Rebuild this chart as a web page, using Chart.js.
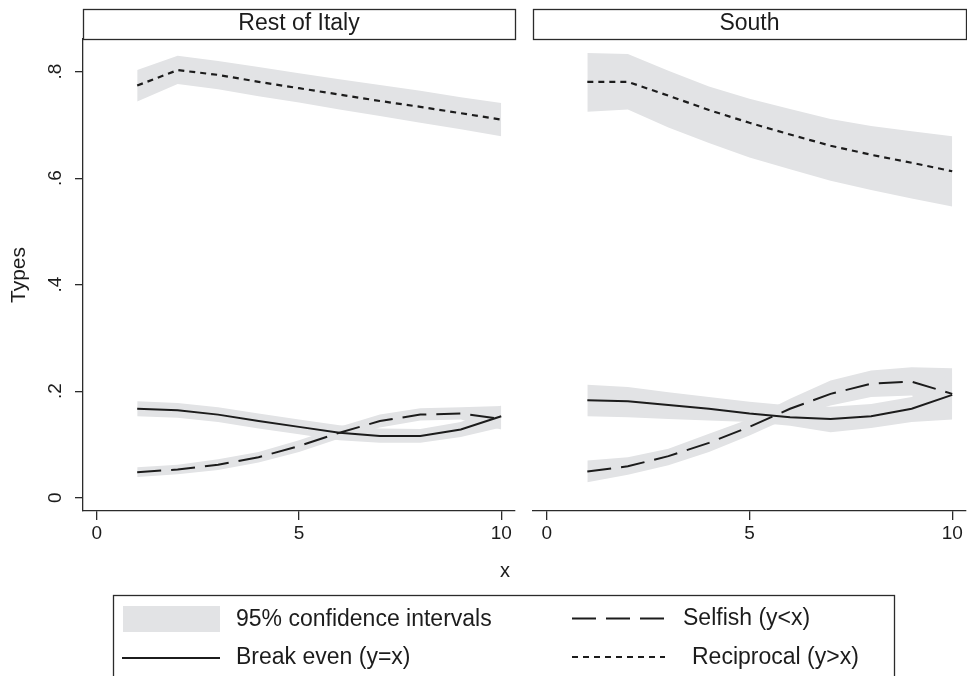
<!DOCTYPE html>
<html>
<head>
<meta charset="utf-8">
<script src="https://cdn.jsdelivr.net/npm/chart.js@4.4.0/dist/chart.umd.min.js"></script>
<style>
  html, body { margin: 0; padding: 0; background: #fff; }
  #wrap { position: relative; width: 967px; height: 676px; overflow: hidden; }
  #left { position: absolute; left: 0; top: 0; }
  #right { position: absolute; left: 520px; top: 0; }
</style>
</head>
<body>
<div id="wrap">
  <canvas id="left" width="967" height="676"></canvas>
  <canvas id="right" width="447" height="600"></canvas>
</div>
<script>
// x values shared by both panels
const xs = [1, 2, 3, 4, 5, 6, 7, 8, 9, 10];
const xTicks = [0, 5, 10];
const yTicks = [0, 0.2, 0.4, 0.6, 0.8];
const panelTitles = ['Rest of Italy', 'South'];

// Rest of Italy
const italyBreakEven   = [0.167, 0.164, 0.156, 0.144, 0.133, 0.122, 0.116, 0.116, 0.128, 0.153];
const italyBreakEvenLo = [0.153, 0.150, 0.142, 0.130, 0.119, 0.108, 0.103, 0.103, 0.114, 0.132];
const italyBreakEvenHi = [0.181, 0.178, 0.170, 0.158, 0.147, 0.136, 0.130, 0.129, 0.142, 0.173];
const italySelfish     = [0.048, 0.053, 0.062, 0.076, 0.097, 0.122, 0.144, 0.156, 0.158, 0.148];
const italySelfishLo   = [0.039, 0.044, 0.052, 0.066, 0.086, 0.111, 0.132, 0.145, 0.147, 0.128];
const italySelfishHi   = [0.057, 0.062, 0.072, 0.086, 0.108, 0.133, 0.156, 0.168, 0.170, 0.172];
const italyRecip       = [0.774, 0.803, 0.794, 0.781, 0.769, 0.757, 0.745, 0.734, 0.722, 0.710];
const italyRecipLo     = [0.744, 0.777, 0.767, 0.754, 0.742, 0.729, 0.717, 0.704, 0.692, 0.679];
const italyRecipHi     = [0.803, 0.830, 0.820, 0.809, 0.797, 0.786, 0.775, 0.764, 0.752, 0.741];

// South
const southBreakEven   = [0.183, 0.181, 0.174, 0.167, 0.158, 0.151, 0.148, 0.153, 0.167, 0.193];
const southBreakEvenLo = [0.153, 0.151, 0.148, 0.145, 0.142, 0.135, 0.123, 0.131, 0.142, 0.147];
const southBreakEvenHi = [0.212, 0.208, 0.198, 0.189, 0.180, 0.173, 0.171, 0.176, 0.189, 0.235];
const southSelfish     = [0.049, 0.059, 0.078, 0.103, 0.133, 0.167, 0.195, 0.214, 0.218, 0.195];
const southSelfishLo   = [0.029, 0.043, 0.061, 0.086, 0.117, 0.151, 0.173, 0.189, 0.192, 0.165];
const southSelfishHi   = [0.070, 0.076, 0.092, 0.120, 0.148, 0.186, 0.220, 0.239, 0.245, 0.243];
const southRecip       = [0.781, 0.781, 0.755, 0.728, 0.704, 0.682, 0.661, 0.644, 0.629, 0.613];
const southRecipLo     = [0.725, 0.729, 0.695, 0.666, 0.639, 0.617, 0.595, 0.578, 0.562, 0.547];
const southRecipHi     = [0.835, 0.833, 0.802, 0.772, 0.749, 0.730, 0.711, 0.698, 0.688, 0.679];

const FONT = 'Liberation Sans, Arial, Helvetica, sans-serif';
const bandColor = 'rgb(226,227,229)';
const lineColor = '#1c1c1c';
const axisColor = '#2b2b2b';
const textColor = '#1c1c1c';
const solidDash = [];
const longDash = [24, 10];
const shortDash = [6, 5];

const pts = arr => arr.map((v, i) => ({ x: xs[i], y: v }));

function band(lo, hi) {
  return [
    { data: pts(lo), borderColor: 'rgba(0,0,0,0)', borderWidth: 0, pointRadius: 0, fill: false },
    { data: pts(hi), borderColor: 'rgba(0,0,0,0)', borderWidth: 0, pointRadius: 0, fill: '-1', backgroundColor: bandColor }
  ];
}
function line(vals, dash, width) {
  return { data: pts(vals), borderColor: lineColor, borderWidth: width, borderDash: dash,
           pointRadius: 0, fill: false, tension: 0 };
}

// box round the panel title strip
const stripBox = {
  id: 'stripBox',
  afterDraw(chart) {
    const tb = chart.titleBlock;
    const ctx = chart.ctx;
    ctx.save();
    ctx.strokeStyle = axisColor;
    ctx.lineWidth = 1.3;
    ctx.strokeRect(Math.round(tb.left) + 0.5, Math.round(tb.top) + 0.5, Math.round(tb.width), Math.round(tb.height));
    ctx.restore();
  }
};

// rotated y tick labels, x title and the legend (left canvas only)
const extras = {
  id: 'extras',
  afterDraw(chart) {
    const ctx = chart.ctx;
    const s = chart.scales.y;
    ctx.save();
    ctx.fillStyle = textColor;
    ctx.font = '19px ' + FONT;
    ctx.textAlign = 'center';
    ctx.textBaseline = 'middle';
    s.ticks.forEach(t => {
      const py = s.getPixelForValue(t.value);
      ctx.save();
      ctx.translate(56, py);
      ctx.rotate(-Math.PI / 2);
      ctx.fillText(t.label, 0, 0);
      ctx.restore();
    });

    ctx.font = '20px ' + FONT;
    ctx.fillText('x', 505, 571);

    // legend
    ctx.strokeStyle = axisColor;
    ctx.lineWidth = 1.3;
    ctx.strokeRect(113.5, 595.5, 781, 120);

    ctx.font = '23px ' + FONT;
    ctx.textAlign = 'left';
    ctx.fillStyle = bandColor;
    ctx.fillRect(123, 606, 97, 26);
    ctx.fillStyle = textColor;
    ctx.fillText('95% confidence intervals', 236, 620);
    ctx.fillText('Break even (y=x)', 236, 658);
    ctx.fillText('Selfish (y<x)', 683, 619);
    ctx.fillText('Reciprocal (y>x)', 692, 658);

    ctx.strokeStyle = lineColor;
    ctx.lineWidth = 2;
    const sample = (x0, x1, y, dash) => {
      ctx.setLineDash(dash);
      ctx.beginPath();
      ctx.moveTo(x0, y);
      ctx.lineTo(x1, y);
      ctx.stroke();
    };
    sample(122, 220, 658, solidDash);
    sample(572, 665, 618.5, longDash);
    sample(572, 665, 657, shortDash);
    ctx.restore();
  }
};

function makeChart(id, title, series, isLeft) {
  const datasets = [
    ...band(series.beLo, series.beHi),
    ...band(series.sLo, series.sHi),
    ...band(series.rLo, series.rHi),
    line(series.be, solidDash, 2),
    line(series.s, longDash, 2),
    line(series.r, shortDash, 2.2)
  ];
  return new Chart(document.getElementById(id), {
    type: 'line',
    data: { datasets },
    options: {
      responsive: false,
      animation: false,
      events: [],
      layout: isLeft
        ? { padding: { left: 0, top: 9, right: 452, bottom: 105 } }
        : { padding: { left: 13, top: 9, right: 1, bottom: 29 } },
      plugins: {
        legend: { display: false },
        tooltip: { enabled: false },
        filler: { drawTime: 'beforeDatasetsDraw' },
        title: {
          display: true, text: title, fullSize: false,
          color: textColor, font: { family: FONT, size: 23, weight: 'normal' },
          padding: { top: 1.2, bottom: 1.2 }
        }
      },
      scales: {
        x: {
          type: 'linear', min: -0.34, max: 10.34,
          afterBuildTicks: s => { s.ticks = xTicks.map(v => ({ value: v })); },
          afterFit: s => { s.height = 60; },
          border: { display: true, color: axisColor, width: 1.3 },
          grid: { display: true, drawOnChartArea: false, drawTicks: true, tickLength: 9, color: axisColor, lineWidth: 1.3 },
          ticks: { color: textColor, font: { family: FONT, size: 19 }, padding: 2, maxRotation: 0 }
        },
        y: {
          display: isLeft,
          type: 'linear', min: -0.025, max: 0.8614,
          afterBuildTicks: s => { s.ticks = yTicks.map(v => ({ value: v })); },
          afterFit: s => { s.width = isLeft ? 83 : 0; },
          border: { display: true, color: axisColor, width: 1.3 },
          grid: { display: true, drawOnChartArea: false, drawTicks: true, tickLength: 8, color: axisColor, lineWidth: 1.3 },
          ticks: {
            display: false,
            callback: v => v === 0 ? '0' : String(Math.round(v * 10) / 10).replace('0.', '.')
          },
          title: {
            display: true, text: 'Types', color: textColor,
            font: { family: FONT, size: 21 }, padding: { top: 6.4, bottom: 0 }
          }
        }
      }
    },
    plugins: isLeft ? [stripBox, extras] : [stripBox]
  });
}

makeChart('left', panelTitles[0], {
  be: italyBreakEven, beLo: italyBreakEvenLo, beHi: italyBreakEvenHi,
  s: italySelfish, sLo: italySelfishLo, sHi: italySelfishHi,
  r: italyRecip, rLo: italyRecipLo, rHi: italyRecipHi
}, true);

makeChart('right', panelTitles[1], {
  be: southBreakEven, beLo: southBreakEvenLo, beHi: southBreakEvenHi,
  s: southSelfish, sLo: southSelfishLo, sHi: southSelfishHi,
  r: southRecip, rLo: southRecipLo, rHi: southRecipHi
}, false);
</script>
</body>
</html>
